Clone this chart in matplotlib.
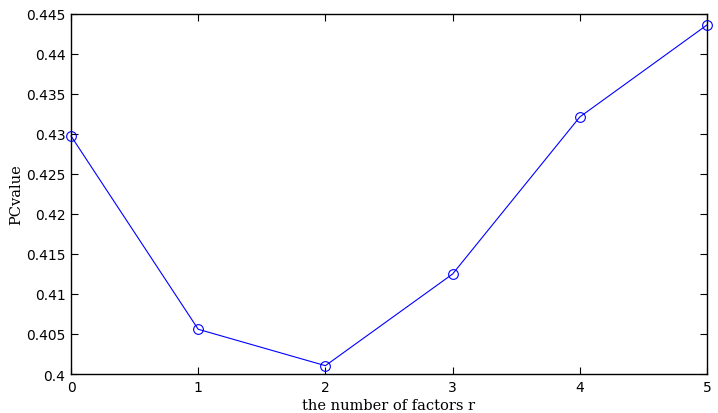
import matplotlib
matplotlib.use('Agg')
import matplotlib.pyplot as plt

r_values = [0, 1, 2, 3, 4, 5]
pc_values = [0.42975, 0.40559, 0.40104, 0.4125, 0.43213, 0.44363]
y_ticks = [0.4, 0.405, 0.41, 0.415, 0.42, 0.425, 0.43, 0.435, 0.44, 0.445]
y_tick_labels = ['0.4', '0.405', '0.41', '0.415', '0.42', '0.425', '0.43', '0.435', '0.44', '0.445']

fig = plt.figure(figsize=(7.18, 4.14), dpi=100)
ax = fig.add_axes([0.0989, 0.0942, 0.8858, 0.8696])

ax.plot(r_values, pc_values, color='#0000ff', linewidth=0.8,
        marker='o', markersize=7, markerfacecolor='none', markeredgecolor='#0000ff',
        markeredgewidth=0.8, clip_on=False)

ax.set_xlim(0, 5)
ax.set_ylim(0.4, 0.445)
ax.set_xticks(r_values)
ax.set_yticks(y_ticks)
ax.set_yticklabels(y_tick_labels)
ax.tick_params(direction='in', top=True, right=True, length=5, width=0.8,
               labelsize=10, pad=4)
for lbl in ax.get_xticklabels() + ax.get_yticklabels():
    lbl.set_family('DejaVu Sans')
for sp in ax.spines.values():
    sp.set_linewidth(1.0)

ax.set_xlabel('the number of factors r', family='DejaVu Serif', fontsize=10.5, labelpad=3)
ax.set_ylabel('PCvalue', family='DejaVu Serif', fontsize=10.5, labelpad=2)

fig.savefig('out.png', dpi=100)
